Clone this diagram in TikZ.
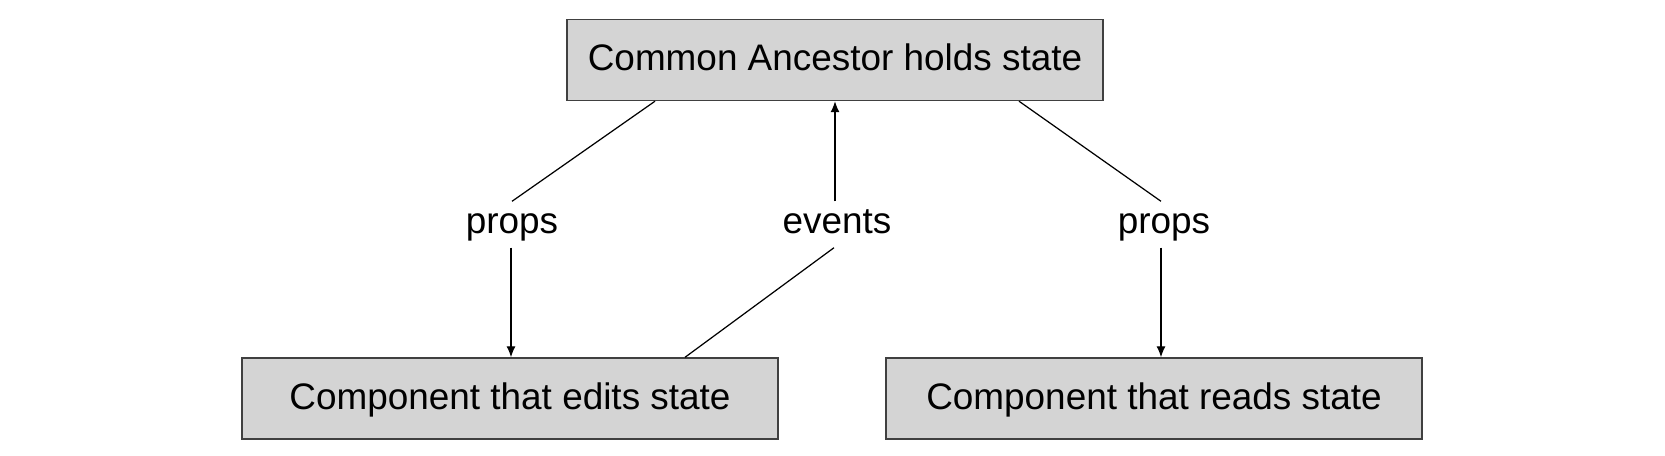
\documentclass[tikz,border=0pt]{standalone}
\usepackage{fontspec}
\setmainfont{Liberation Sans}
\usetikzlibrary{arrows.meta}
\tikzset{
	statebox/.style={draw=black!75, line width=0.4pt, fill=black!17, minimum width=5.36cm, minimum height=0.81cm, inner sep=0pt, text height=0.27cm, text depth=0.06cm, font=\fontsize{10.5}{12}\selectfont},
	flowlabel/.style={anchor=base, inner sep=0.06cm, text height=0.25cm, text depth=0.08cm, font=\fontsize{10.5}{12}\selectfont},
	flowline/.style={line width=0.35pt},
	flowarrow/.style={line width=0.35pt, -{Latex[length=1.1mm,width=0.9mm]}}
}

\begin{document}
\begin{tikzpicture}
			%%%%% START %%%%%
			\useasboundingbox (0, 0) rectangle (16.65, 4.55);
			
			\node[statebox] (ancestor) at (8.35, 3.95) {Common Ancestor holds state};
			\node[statebox] (editor) at (5.10, 0.565) {Component that edits state};
			\node[statebox] (reader) at (11.54, 0.565) {Component that reads state};
			
			\node[flowlabel] (propsl) at (5.12, 2.22) {props};
			\node[flowlabel] (events) at (8.37, 2.22) {events};
			\node[flowlabel] (propsr) at (11.64, 2.22) {props};
			
			\draw[flowline] ([xshift=-1.8cm]ancestor.south) -- (propsl.north);
			\draw[flowarrow] ([xshift=-0.01cm]propsl.south) -- ([xshift=-0.01cm]propsl.south |- editor.north);
			
			\draw[flowline] ([xshift=1.75cm]editor.north) -- ([xshift=-0.03cm]events.south);
			\draw[flowarrow] ([xshift=-0.02cm]events.north) -- ([xshift=-0.02cm]events.north |- ancestor.south);
			
			\draw[flowline] ([xshift=1.84cm]ancestor.south) -- ([xshift=-0.03cm]propsr.north);
			\draw[flowarrow] ([xshift=-0.03cm]propsr.south) -- ([xshift=-0.03cm]propsr.south |- reader.north);
			
			%%%%% END %%%%%
		\end{tikzpicture}
\end{document}
